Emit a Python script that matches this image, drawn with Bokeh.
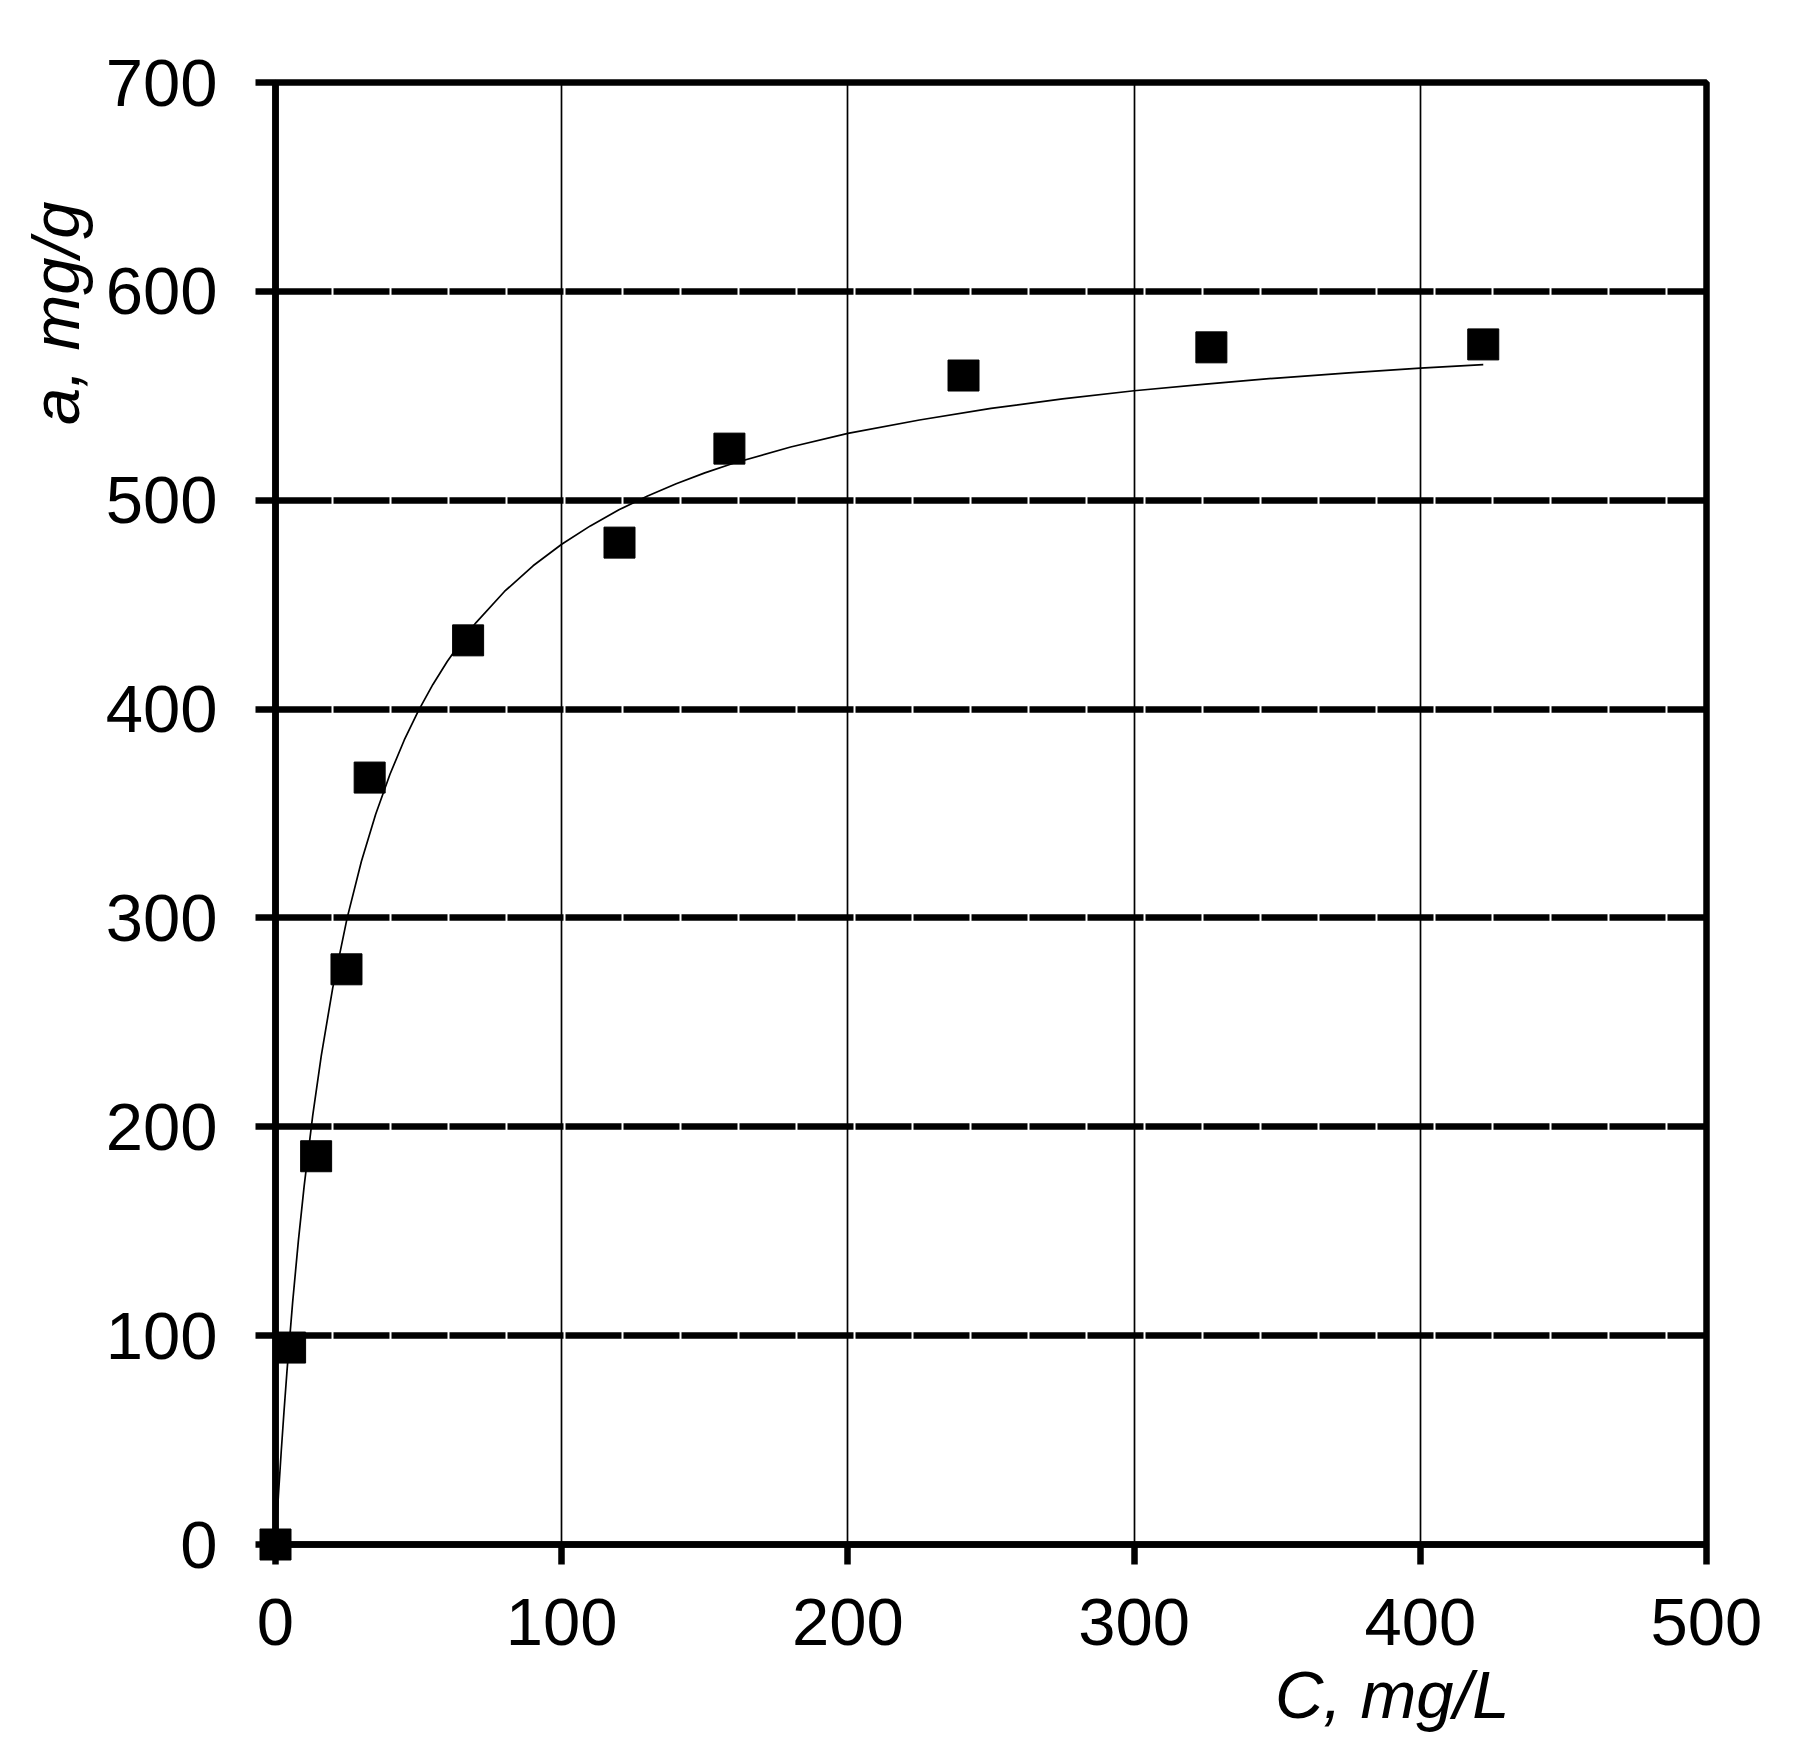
from bokeh.plotting import figure
from bokeh.models import Range1d, FixedTicker, Title
from bokeh.embed import file_html
from bokeh.resources import INLINE

# Measured data points: C (mg/L) and a (mg/g)
conc = [0.0, 5.1, 14.2, 24.8, 32.9, 67.3, 120.2, 158.6, 240.4, 327.0, 422.0]
uptake = [0.0, 94.3, 185.9, 275.4, 367.2, 432.9, 479.7, 524.7, 559.7, 573.2, 574.6]

# Fitted curve
curve_c = [0, 1, 2, 3, 4, 6, 8, 10, 13, 16, 20, 25, 30, 35, 40, 45, 50, 55, 60,
           65, 70, 80, 90, 100, 110, 120, 130, 140, 150, 160, 180, 200, 225,
           250, 275, 300, 325, 350, 375, 400, 422]
curve_a = [0.0, 23.1, 44.5, 64.3, 82.8, 116.2, 145.5, 171.5, 205.3, 234.1,
           266.5, 299.8, 327.0, 349.6, 368.8, 385.2, 399.4, 411.8, 422.8,
           432.5, 441.3, 456.3, 468.6, 478.9, 487.7, 495.4, 502.0, 507.9,
           513.1, 517.7, 525.5, 532.0, 538.4, 544.0, 548.5, 552.4, 555.6,
           558.5, 561.0, 563.2, 564.9]

x_ticks = [0, 100, 200, 300, 400, 500]
y_ticks = [0, 100, 200, 300, 400, 500, 600, 700]
x_title = "C, mg/L"
y_title = "a, mg/g"

FONT = "Liberation Sans"
FS = "67px"

p = figure(width=1778, height=1745, output_backend="svg", toolbar_location=None,
           x_range=Range1d(0, 500), y_range=Range1d(0, 700),
           min_border_left=275, min_border_right=72,
           min_border_top=82, min_border_bottom=201)
p.background_fill_color = "white"
p.border_fill_color = "white"
p.outline_line_color = "black"
p.outline_line_width = 6.5

for ax, ticks in ((p.xaxis, x_ticks), (p.yaxis, y_ticks)):
    ax.ticker = FixedTicker(ticks=ticks)
    ax.axis_line_width = 6.5
    ax.axis_line_color = "black"
    ax.major_tick_line_width = 6.5
    ax.major_tick_line_color = "black"
    ax.major_tick_out = 20
    ax.major_tick_in = 0
    ax.minor_tick_line_color = None
    ax.major_label_text_font = FONT
    ax.major_label_text_font_size = FS
    ax.major_label_text_color = "black"

p.xaxis.major_label_standoff = 34
p.yaxis.major_label_standoff = 38

p.xgrid.grid_line_color = "black"
p.xgrid.grid_line_width = 1.7
p.ygrid.grid_line_color = "black"
p.ygrid.grid_line_width = 6.5
p.ygrid.grid_line_dash = "56 2"

p.line(curve_c, curve_a, line_color="black", line_width=1.7)
p.scatter(conc, uptake, marker="square", size=31, fill_color="black",
          line_color="black", line_width=1, line_join="round", level="overlay")

p.add_layout(Title(text=x_title, align="right", offset=197, standoff=14,
                   text_font=FONT, text_font_style="italic",
                   text_font_size=FS, text_color="black"), "below")
p.add_layout(Title(text=y_title, align="right", offset=119, standoff=20,
                   text_font=FONT, text_font_style="italic",
                   text_font_size=FS, text_color="black"), "left")

open("out.html", "w").write(file_html(p, INLINE))
